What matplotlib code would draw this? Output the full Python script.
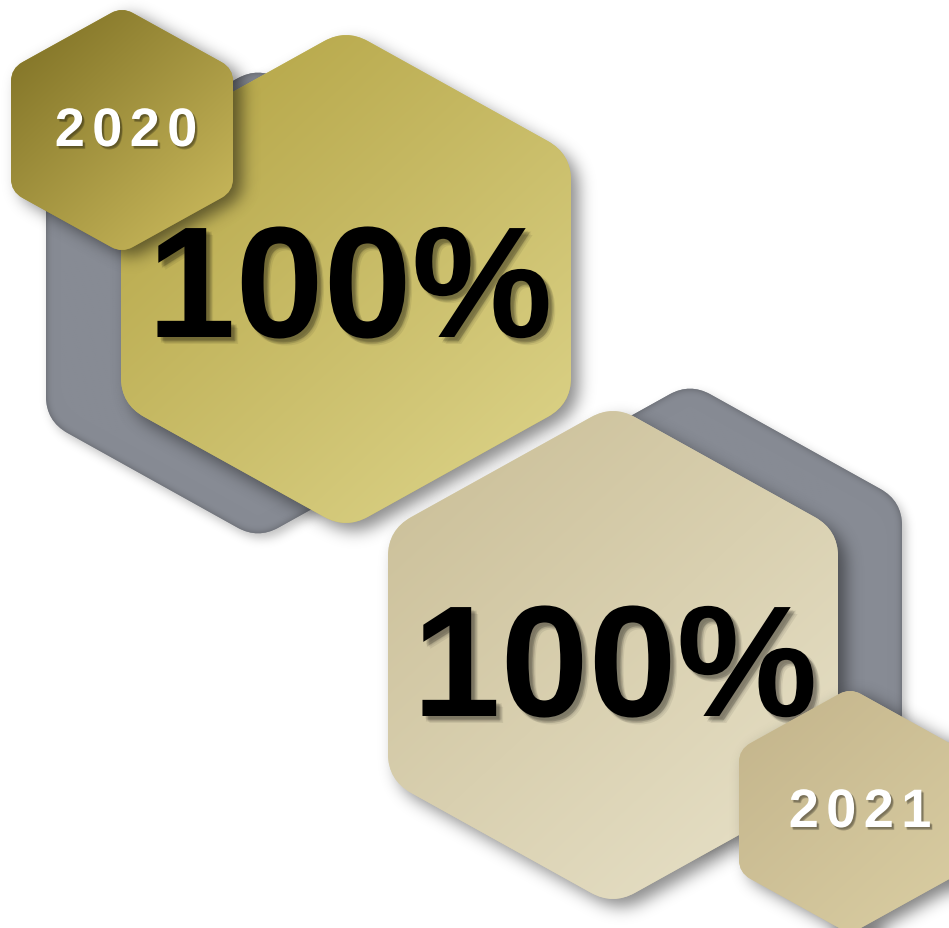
import numpy as np
import matplotlib
matplotlib.use("Agg")
import matplotlib.pyplot as plt
from matplotlib.path import Path
from matplotlib.patches import PathPatch
from matplotlib.transforms import Affine2D
import matplotlib.patheffects as pe

W, H = 949, 929

# data
years = ["2020", "2021"]
shares = [100, 100]
year_colors = [("#7b6d22", "#cfbe60"), ("#c3b48b", "#dacea3")]
big_colors = [("#b1a140", "#dfd68d"), ("#c9bd95", "#e9e3cb")]
back_color = "#878b94"


def hex_path(cx, cy, w, h, r):
    pts = [(cx, cy - h), (cx + w, cy - h / 2), (cx + w, cy + h / 2),
           (cx, cy + h), (cx - w, cy + h / 2), (cx - w, cy - h / 2)]
    pts = [np.array(p, float) for p in pts]
    verts, codes = [], []
    n = len(pts)
    for i in range(n):
        p0, p1, p2 = pts[i - 1], pts[i], pts[(i + 1) % n]
        d0 = (p0 - p1) / np.linalg.norm(p0 - p1)
        d2 = (p2 - p1) / np.linalg.norm(p2 - p1)
        ang = np.arccos(np.clip(np.dot(d0, d2), -1, 1))
        t = r / np.tan(ang / 2)
        a = p1 + d0 * t
        b = p1 + d2 * t
        verts.append(a)
        codes.append(Path.MOVETO if i == 0 else Path.LINETO)
        verts += [p1, b]
        codes += [Path.CURVE3, Path.CURVE3]
    verts.append(verts[0])
    codes.append(Path.CLOSEPOLY)
    return Path(np.array(verts), codes)


yy, xx = np.mgrid[0:H, 0:W] + 0.5
grid_pts = np.column_stack([xx.ravel(), yy.ravel()])


def mask_of(path, dx=0, dy=0):
    p = path.transformed(Affine2D().translate(dx, dy))
    return p.contains_points(grid_pts).reshape(H, W).astype(float)


def blur(a, s):
    k = int(3 * s)
    x = np.arange(-k, k + 1)
    g = np.exp(-x ** 2 / (2.0 * s * s))
    g /= g.sum()
    pad = np.pad(a, k, mode="edge")
    a = np.apply_along_axis(lambda m: np.convolve(m, g, mode="valid"), 0, pad)
    a = np.apply_along_axis(lambda m: np.convolve(m, g, mode="valid"), 1, a)
    return a


def to_rgb(c):
    return np.array(matplotlib.colors.to_rgb(c))


def shadow(ax, path, dx, dy, sigma, alpha, z):
    m = blur(mask_of(path, dx, dy), sigma)
    img = np.zeros((H, W, 4))
    img[..., 3] = m * alpha
    ax.imshow(img, extent=(0, W, H, 0), zorder=z, interpolation="bilinear")


def grad_hex(ax, path, c0, c1, z, rim=0.0):
    c0, c1 = to_rgb(c0), to_rgb(c1)
    ext = path.get_extents()
    d = np.array([ext.x1 - ext.x0, ext.y1 - ext.y0])
    t = ((xx - ext.x0) * d[0] + (yy - ext.y0) * d[1]) / (d @ d)
    t = np.clip(t, 0, 1)[..., None]
    img = c0 * (1 - t) + c1 * t
    if rim > 0:
        m = blur(mask_of(path), 5)
        img = img * (1 - rim * np.clip(1 - m, 0, 1) ** 1.5)[..., None]
    under = PathPatch(path, facecolor=(c0 + c1) / 2, edgecolor="none", zorder=z)
    ax.add_patch(under)
    im = ax.imshow(img, extent=(0, W, H, 0), zorder=z + 0.1, interpolation="bilinear")
    im.set_clip_path(under)


fig = plt.figure(figsize=(W / 100, H / 100), dpi=100)
ax = fig.add_axes([0, 0, 1, 1])
ax.set_facecolor("white")

# layout of the two groups: (back hex, big hex, year hex)
groups = [
    dict(back=(258, 304), big=(346, 280), small=(122, 131),
         big_txt=(350, 338), yr_txt=(126, 147)),
    dict(back=(690, 620), big=(613, 656), small=(850, 812),
         big_txt=(615, 717), yr_txt=(860, 828)),
]

z = 1
for i, g in enumerate(groups):
    back = hex_path(*g["back"], 212, 236, 42)
    big = hex_path(*g["big"], 225, 250, 45)
    small = hex_path(*g["small"], 111, 123, 22)

    shadow(ax, back, 4, 5, 5, 0.25, z)
    grad_hex(ax, back, back_color, back_color, z + 1, rim=0.45)
    shadow(ax, big, 8, 8, 8, 0.45, z + 2)
    c0, c1 = big_colors[i]
    grad_hex(ax, big, c0, c1, z + 3)

    tx, ty = g["big_txt"]
    ax.text(tx, ty, f"{shares[i]}%", ha="center", va="baseline",
            fontsize=114, fontweight="bold", family="Liberation Sans",
            color="black", zorder=z + 4,
            path_effects=[pe.SimplePatchShadow(offset=(ox, oy), shadow_rgbFace="black", alpha=0.07)
                          for ox, oy in [(2, -2), (3, -3), (4, -4), (2.5, -4), (4, -2.5), (5, -5), (3, -3)]]
            + [pe.Normal()])

    shadow(ax, small, 9, 6, 8, 0.5, z + 5)
    c0, c1 = year_colors[i]
    grad_hex(ax, small, c0, c1, z + 6)

    yx, yb = g["yr_txt"]
    for k, ch in enumerate(years[i]):
        ax.text(yx + (k - 1.5) * 37.5, yb, ch, ha="center", va="baseline",
                fontsize=39, fontweight="bold", family="Liberation Sans",
                color="white", zorder=z + 7,
                path_effects=[pe.SimplePatchShadow(offset=(ox, oy), shadow_rgbFace="black", alpha=0.12)
                              for ox, oy in [(1, -1), (1.5, -1.5), (2, -2), (1.5, -2.2)]]
                + [pe.Normal()])
    z += 10

ax.set_xlim(0, W)
ax.set_ylim(H, 0)
ax.set_aspect("auto")
ax.axis("off")
fig.savefig("out.png", dpi=100, facecolor="white")
